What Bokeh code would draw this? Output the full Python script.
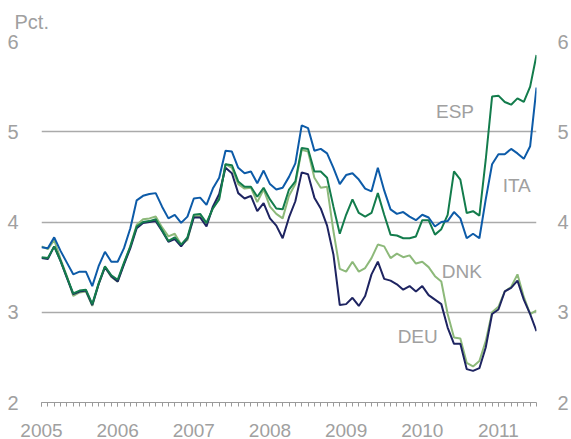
from bokeh.plotting import figure
from bokeh.models import Range1d, FixedTicker, LinearAxis, Label, Title
from bokeh.embed import file_html
from bokeh.resources import INLINE

# Monthly long-term interest rates, Jan 2005 .. Jul 2011 (pct.)
start_year = 2005
year_ticks = [2005, 2006, 2007, 2008, 2009, 2010, 2011]
y_ticks = [2, 3, 4, 5, 6]

ITA = [3.72, 3.71, 3.83, 3.68, 3.55, 3.42, 3.45, 3.45, 3.29, 3.51, 3.67, 3.56,
       3.56, 3.71, 3.93, 4.24, 4.29, 4.31, 4.32, 4.17, 4.04, 4.08, 3.99, 4.06,
       4.26, 4.27, 4.19, 4.37, 4.49, 4.79, 4.78, 4.60, 4.54, 4.56, 4.43, 4.57,
       4.42, 4.36, 4.38, 4.50, 4.65, 5.07, 5.04, 4.79, 4.81, 4.76, 4.60, 4.42,
       4.52, 4.54, 4.47, 4.37, 4.34, 4.60, 4.35, 4.14, 4.09, 4.11, 4.06, 4.02,
       4.08, 4.05, 3.95, 4.00, 4.01, 4.11, 4.04, 3.82, 3.87, 3.82, 4.25, 4.64,
       4.75, 4.75, 4.81, 4.76, 4.70, 4.84, 5.49]

ESP = [3.61, 3.60, 3.73, 3.57, 3.39, 3.21, 3.24, 3.25, 3.09, 3.32, 3.51, 3.41,
       3.36, 3.55, 3.73, 3.95, 4.00, 4.01, 4.03, 3.91, 3.79, 3.83,
       3.75, 3.83, 4.08, 4.09, 3.99, 4.15, 4.25, 4.64, 4.63, 4.45, 4.39, 4.39,
       4.28, 4.38, 4.25, 4.15, 4.14, 4.36, 4.45, 4.82, 4.81, 4.56, 4.56, 4.49,
       4.17, 3.87, 4.08, 4.25, 4.10, 4.06, 4.10, 4.32,
       4.08, 3.86, 3.85, 3.82, 3.82, 3.84, 4.02, 4.02, 3.86, 3.92, 4.08, 4.56,
       4.47, 4.10, 4.12, 4.07, 4.69, 5.39, 5.40, 5.33, 5.30, 5.37, 5.33, 5.50, 5.85]

DNK = [3.73, 3.70, 3.80, 3.59, 3.40, 3.18, 3.22, 3.23, 3.07, 3.31, 3.50, 3.39,
       3.34, 3.54, 3.73, 3.97, 4.03, 4.04, 4.06, 3.94, 3.84, 3.87,
       3.75, 3.80, 4.06, 4.07, 3.98, 4.15, 4.27, 4.64, 4.60, 4.42, 4.37, 4.38,
       4.22, 4.36, 4.17, 4.09, 4.04, 4.29, 4.42, 4.80, 4.78, 4.49, 4.38, 4.39,
       3.90, 3.48, 3.45, 3.56, 3.45, 3.49, 3.60, 3.75,
       3.73, 3.60, 3.65, 3.61, 3.63, 3.54, 3.56, 3.50, 3.40, 3.34, 2.98, 2.72,
       2.71, 2.44, 2.40, 2.46, 2.68, 3.00, 3.06, 3.23, 3.28, 3.42, 3.17, 2.98, 3.02]

DEU = [3.60, 3.59, 3.73, 3.57, 3.38, 3.20, 3.23, 3.24, 3.08, 3.31, 3.50, 3.40,
       3.34, 3.53, 3.71, 3.93, 3.99, 4.00, 4.01, 3.90, 3.78, 3.81, 3.73, 3.82,
       4.05, 4.05, 3.95, 4.17, 4.31, 4.60, 4.54, 4.32, 4.26, 4.29, 4.12, 4.21,
       4.04, 3.96, 3.82, 4.05, 4.23, 4.55, 4.53, 4.27, 4.15, 3.96, 3.64, 3.08,
       3.09, 3.16, 3.07, 3.18, 3.42, 3.56, 3.37, 3.35, 3.31, 3.25, 3.29, 3.23,
       3.29, 3.19, 3.14, 3.09, 2.83, 2.65, 2.65, 2.37, 2.35, 2.38, 2.61, 2.98,
       3.03, 3.23, 3.27, 3.35, 3.14, 2.98, 2.79]

n = len(ITA)
x = [start_year + i / 12 for i in range(n)]
x_end = start_year + (n - 1) / 12

GRAY = "#a0a0a0"
FONT = "Liberation Sans"

p = figure(width=571, height=439, x_range=Range1d(start_year, x_end),
           y_range=Range1d(2, 6), output_backend="svg", toolbar_location=None,
           min_border_left=41, min_border_right=33, min_border_top=40,
           min_border_bottom=37)
p.outline_line_color = None
p.background_fill_color = "white"
p.border_fill_color = "white"

p.title = Title(text="Pct.", align="left", offset=-27, standoff=17,
                text_font=FONT, text_font_size="20px", text_font_style="normal",
                text_color=GRAY)

# bottom axis: month ticks, year labels
p.xaxis.ticker = FixedTicker(ticks=year_ticks, minor_ticks=x)
p.xaxis.axis_line_color = "#9a9a9a"
p.xaxis.axis_line_width = 1
p.xaxis.major_tick_line_color = "#9a9a9a"
p.xaxis.minor_tick_line_color = "#9a9a9a"
p.xaxis.major_tick_in = 0
p.xaxis.major_tick_out = 4
p.xaxis.minor_tick_in = 0
p.xaxis.minor_tick_out = 4
p.xaxis.major_label_standoff = 17
p.xaxis.major_label_text_font = FONT
p.xaxis.major_label_text_font_size = "19px"
p.xaxis.major_label_text_color = GRAY

# left axis
p.yaxis.ticker = FixedTicker(ticks=y_ticks)
p.yaxis.axis_line_color = None
p.yaxis.major_tick_line_color = None
p.yaxis.minor_tick_line_color = None
p.yaxis.major_label_standoff = 17
p.yaxis.major_label_text_font = FONT
p.yaxis.major_label_text_font_size = "20px"
p.yaxis.major_label_text_color = GRAY

# right axis
ry = LinearAxis(ticker=FixedTicker(ticks=y_ticks))
ry.axis_line_color = None
ry.major_tick_line_color = None
ry.minor_tick_line_color = None
ry.major_label_standoff = 15
ry.major_label_text_font = FONT
ry.major_label_text_font_size = "20px"
ry.major_label_text_color = GRAY
p.add_layout(ry, "right")

p.xgrid.visible = False
p.ygrid.ticker = FixedTicker(ticks=[3, 4, 5, 6])
p.ygrid.grid_line_color = "#aaaaaa"
p.ygrid.grid_line_width = 1.5

series = [("DNK", DNK, "#8db97a"), ("DEU", DEU, "#1e2461"),
          ("ESP", ESP, "#137c4c"), ("ITA", ITA, "#0d5ba8")]
for name, ys, col in series:
    p.line(x, ys, line_color=col, line_width=2)

# series labels
label_pos = {"ESP": (2010.43, 5.226), "ITA": (2011.24, 4.407),
             "DNK": (2010.52, 3.456), "DEU": (2009.94, 2.726)}
for name, (lx, ly) in label_pos.items():
    p.add_layout(Label(x=lx, y=ly, text=name, text_align="center",
                       text_baseline="middle", text_font=FONT,
                       text_font_size="19px", text_color=GRAY))

open("out.html", "w").write(file_html(p, INLINE))
